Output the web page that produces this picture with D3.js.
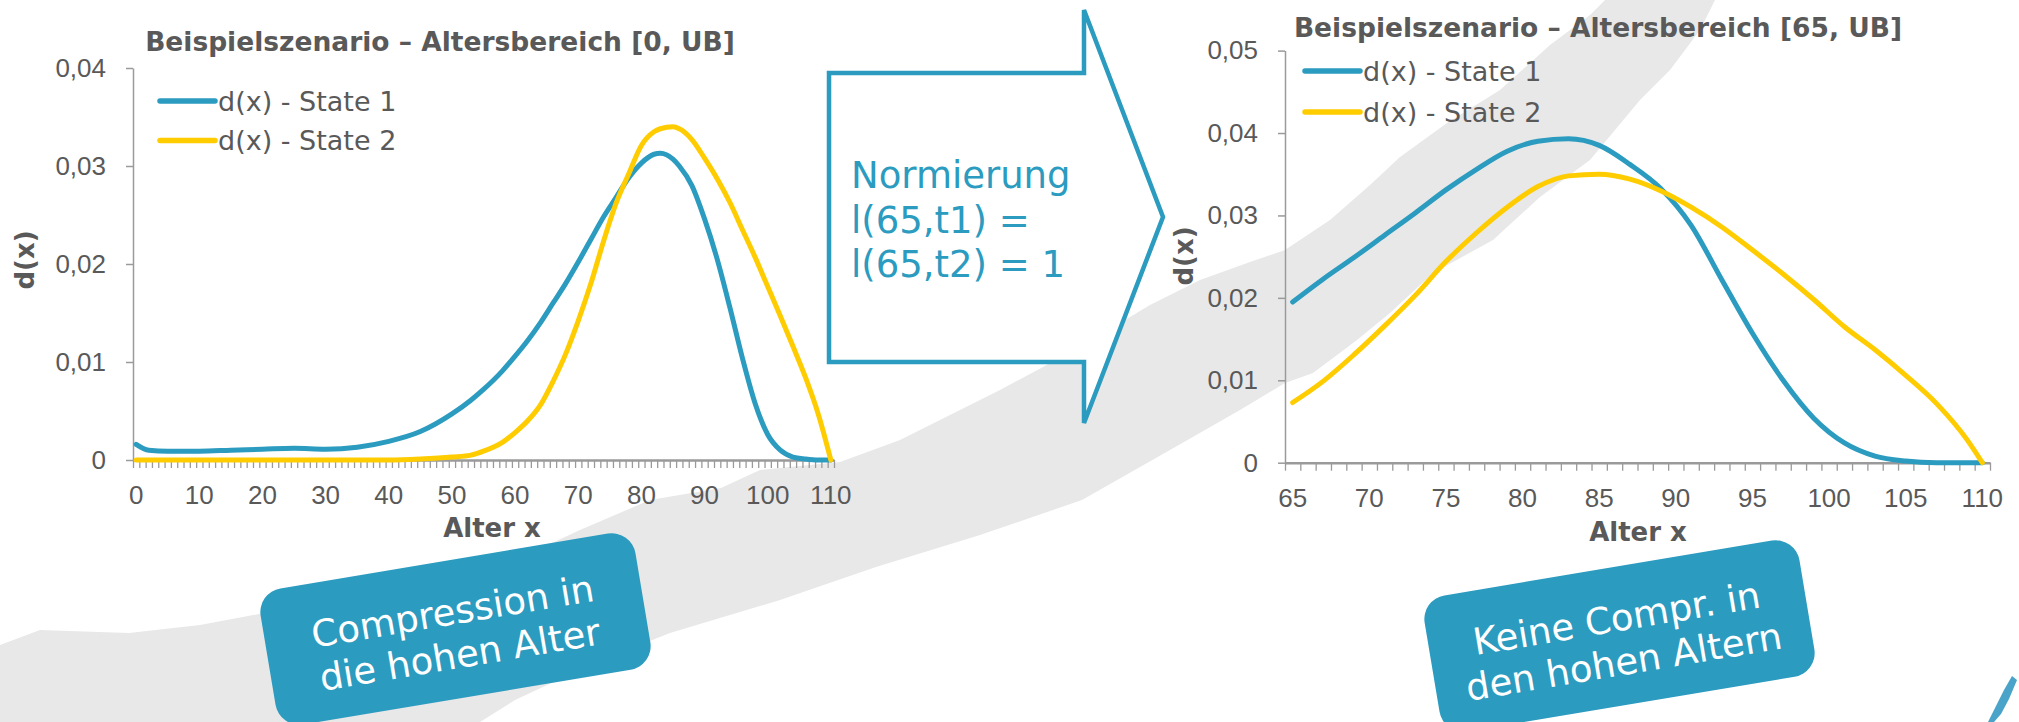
<!DOCTYPE html>
<html lang="de">
<head>
<meta charset="UTF-8" />
<title>Beispielszenario d(x)</title>
<script src="https://d3js.org/d3.v7.min.js"></script>
<style>
  body { margin: 0; background: #fff; }
  svg { display: block; font-family: "DejaVu Sans", Verdana, sans-serif; }
  .tick text { fill: #595959; font-size: 26px; }
  .axis path, .axis line { stroke: #9a9a9a; }
  .title, .axis-title { fill: #595959; font-weight: bold; }
  .legend text { fill: #595959; font-size: 27px; }
</style>
</head>
<body>
<svg width="2019" height="722"></svg>
<script>
// left chart: ages 0..110
const leftAges = [0,2,5,10,15,20,25,30,35,40,45,50,53,55,58,60,62,64,66,68,70,72,74,76,78,80,82,83,85,86,88,90,92,94,96,98,100,102,104,106,108,110];
const leftState1 = [0.0016,0.0010,0.0009,0.0009,0.0010,0.0011,0.0012,0.0011,0.0013,0.0019,0.0029,0.0047,0.0061,0.0072,0.0091,0.0106,0.0122,0.0140,0.0160,0.0180,0.0202,0.0225,0.0248,0.0268,0.0288,0.0303,0.0312,0.0313,0.0307,0.0300,0.0280,0.0246,0.0205,0.0156,0.0104,0.0058,0.0026,0.0010,0.0003,0.0001,0.0000,0.0000];
const leftState2 = [0,0,0,0,0,0,0,0,0,0,0.0001,0.0003,0.0005,0.0009,0.0018,0.0028,0.0040,0.0056,0.0080,0.0108,0.0142,0.0180,0.0223,0.0262,0.0292,0.0321,0.0335,0.0338,0.0340,0.0338,0.0327,0.0308,0.0287,0.0263,0.0235,0.0207,0.0177,0.0147,0.0116,0.0084,0.0047,0.0000];

// right chart: ages 65..110, normiert auf l(65) = 1
const rightAges = [65,67,69,71,73,75,77,79,81,83,85,87,89,91,93,95,97,99,101,103,105,107,109,110];
const rightState1 = [0.0195,0.0223,0.0249,0.0276,0.0303,0.0331,0.0356,0.0378,0.0390,0.0393,0.0385,0.0362,0.0333,0.0288,0.0222,0.0157,0.0100,0.0054,0.0024,0.0008,0.0002,0.0000,0.0000,0.0000];
const rightState2 = [0.0073,0.0099,0.0131,0.0166,0.0203,0.0244,0.0279,0.0310,0.0335,0.0348,0.0350,0.0344,0.0330,0.0310,0.0286,0.0258,0.0229,0.0198,0.0165,0.0137,0.0106,0.0072,0.0028,0.0000];

const leftCategories = d3.range(0, 111);
const rightCategories = d3.range(65, 111);
const leftXLabels = [0,10,20,30,40,50,60,70,80,90,100,110];
const rightXLabels = [65,70,75,80,85,90,95,100,105,110];
const leftYTicks = [0, 0.01, 0.02, 0.03, 0.04];
const rightYTicks = [0, 0.01, 0.02, 0.03, 0.04, 0.05];

const seriesNames = ["d(x) - State 1", "d(x) - State 2"];
const colors = ["#2b9bc0", "#ffcc00"];

const svg = d3.select("svg");
const fmt = d => d === 0 ? "0" : d3.format(".2f")(d).replace(".", ",");

// light grey background band
const band = [[0,645],[40,630],[129,633],[200,625],[280,610],[360,590],[420,575],[515,560],[580,530],[650,500],[721,488],[760,470],[840,462],[900,440],[960,410],[1000,390],[1043,367],[1100,335],[1150,305],[1200,280],[1250,262],[1285,250],[1330,220],[1370,185],[1400,157],[1447,123],[1500,90],[1550,45],[1590,15],[1605,0],
  [1715,0],[1700,30],[1670,70],[1640,100],[1590,160],[1540,197],[1493,240],[1433,273],[1390,313],[1357,340],[1313,373],[1285,383],[1240,410],[1170,450],[1082,500],[980,535],[876,567],[780,600],[670,633],[590,665],[515,700],[480,722],[0,722]];
svg.append("path")
  .attr("d", d3.line().curve(d3.curveLinearClosed)(band))
  .attr("fill", "#e8e8e8");

svg.append("path")
  .attr("d", "M2012,676 L2017,680 L2009,699 L2001,714 L1994,722 L1988,722 L1996,706 L2004,690 Z")
  .attr("fill", "#4aa3c8");

function drawChart(opt) {
  const x = d3.scaleBand().domain(opt.categories).range(opt.xRange);
  const xEdge = d3.scaleLinear().domain([0, opt.categories.length]).range(opt.xRange);
  const y = d3.scaleLinear().domain(opt.yDomain).range(opt.yRange);
  const cx = a => x(a) + x.bandwidth() / 2;

  const g = svg.append("g");

  if (opt.plotFill) {
    g.append("rect")
      .attr("x", opt.xRange[0]).attr("y", opt.yRange[1])
      .attr("width", opt.xRange[1] - opt.xRange[0])
      .attr("height", opt.yRange[0] - opt.yRange[1])
      .attr("fill", opt.plotFill);
  }

  // y axis
  g.append("g")
    .attr("class", "axis")
    .attr("transform", `translate(${opt.xRange[0]},0)`)
    .call(d3.axisLeft(y).tickValues(opt.yTicks).tickFormat(fmt).tickSize(7).tickSizeOuter(0).tickPadding(20))
    .call(s => s.selectAll("path, line").attr("stroke-width", 1.5));

  // x axis: tick marks between categories, labels centred
  g.append("g")
    .attr("class", "axis")
    .attr("transform", `translate(0,${opt.yRange[0]})`)
    .call(d3.axisBottom(xEdge).tickValues(d3.range(0, opt.categories.length + 1)).tickFormat("").tickSize(8).tickSizeOuter(0))
    .call(s => s.select("path").attr("stroke-width", 2.5))
    .call(s => s.selectAll("line").attr("stroke-width", 1.3));

  g.append("g")
    .attr("transform", `translate(0,${opt.yRange[0]})`)
    .call(d3.axisBottom(x).tickValues(opt.xLabels).tickSize(0).tickPadding(26))
    .call(s => s.select(".domain").remove());

  const line = d3.line()
    .x(d => cx(d[0]))
    .y(d => y(d[1]))
    .curve(d3.curveMonotoneX);

  opt.series.forEach((vals, i) => {
    g.append("path")
      .datum(opt.ages.map((a, j) => [a, vals[j]]))
      .attr("d", line)
      .attr("fill", "none")
      .attr("stroke", colors[i])
      .attr("stroke-width", 5)
      .attr("stroke-linejoin", "round")
      .attr("stroke-linecap", "round");
  });

  g.append("text")
    .attr("class", "title")
    .attr("x", opt.titlePos[0]).attr("y", opt.titlePos[1])
    .attr("text-anchor", "middle")
    .style("font-size", "26.5px")
    .text(opt.title);

  g.append("text")
    .attr("class", "axis-title")
    .attr("transform", `translate(${opt.yTitlePos[0]},${opt.yTitlePos[1]}) rotate(-90)`)
    .attr("text-anchor", "middle")
    .attr("dy", "0.35em")
    .style("font-size", "26px")
    .text("d(x)");

  g.append("text")
    .attr("class", "axis-title")
    .attr("x", opt.xTitlePos[0]).attr("y", opt.xTitlePos[1])
    .attr("text-anchor", "middle")
    .style("font-size", "26px")
    .text("Alter x");

  const legend = g.append("g").attr("class", "legend");
  seriesNames.forEach((name, i) => {
    const ly = opt.legendPos[1] + i * opt.legendGap;
    legend.append("line")
      .attr("x1", opt.legendPos[0]).attr("x2", opt.legendPos[0] + 55)
      .attr("y1", ly).attr("y2", ly)
      .attr("stroke", colors[i]).attr("stroke-width", 5.5)
      .attr("stroke-linecap", "round");
    legend.append("text")
      .attr("x", opt.legendPos[0] + 58).attr("y", ly)
      .attr("dy", "0.36em")
      .text(name);
  });
}

drawChart({
  categories: leftCategories, xRange: [133, 834], yDomain: [0, 0.04], yRange: [460, 68],
  yTicks: leftYTicks, xLabels: leftXLabels, ages: leftAges, series: [leftState1, leftState2],
  plotFill: "#fff",
  title: "Beispielszenario \u2013 Altersbereich [0, UB]", titlePos: [440, 51],
  yTitlePos: [25, 260], xTitlePos: [492, 537], legendPos: [160, 101], legendGap: 39.5
});

drawChart({
  categories: rightCategories, xRange: [1285, 1990], yDomain: [0, 0.05], yRange: [462.7, 50.6],
  yTicks: rightYTicks, xLabels: rightXLabels, ages: rightAges, series: [rightState1, rightState2],
  plotFill: null,
  title: "Beispielszenario \u2013 Altersbereich [65, UB]", titlePos: [1598, 37],
  yTitlePos: [1184, 256], xTitlePos: [1638, 541], legendPos: [1305, 71], legendGap: 41
});

// arrow "Normierung"
const arrow = [[829,73],[1084,73],[1084,10],[1163,217],[1084,423],[1084,362],[829,362]];
svg.append("path")
  .attr("d", d3.line().curve(d3.curveLinearClosed)(arrow))
  .attr("fill", "#fff")
  .attr("stroke", "#2b9bc0")
  .attr("stroke-width", 4.5);

const arrowText = ["Normierung", "l(65,t1) =", "l(65,t2) = 1"];
svg.append("g").selectAll("text")
  .data(arrowText)
  .join("text")
  .attr("x", 851)
  .attr("y", (d, i) => 188 + i * 44.5)
  .attr("fill", "#2b9bc0")
  .style("font-size", "37px")
  .text(d => d);

// rotated callouts
const callouts = [
  { pos: [456, 632], lines: ["Compression in", "die hohen Alter"] },
  { pos: [1620, 639], lines: ["Keine Compr. in", "den hohen Altern"] }
];
callouts.forEach(c => {
  const g = svg.append("g").attr("transform", `translate(${c.pos[0]},${c.pos[1]}) rotate(-9.5)`);
  g.append("rect")
    .attr("x", -190).attr("y", -72).attr("width", 380).attr("height", 138)
    .attr("rx", 24)
    .attr("fill", "#2b9bc0");
  g.selectAll("text")
    .data(c.lines)
    .join("text")
    .attr("text-anchor", "middle")
    .attr("y", (d, i) => -8 + i * 44)
    .attr("fill", "#fff")
    .style("font-size", "37px")
    .text(d => d);
});
</script>
</body>
</html>
